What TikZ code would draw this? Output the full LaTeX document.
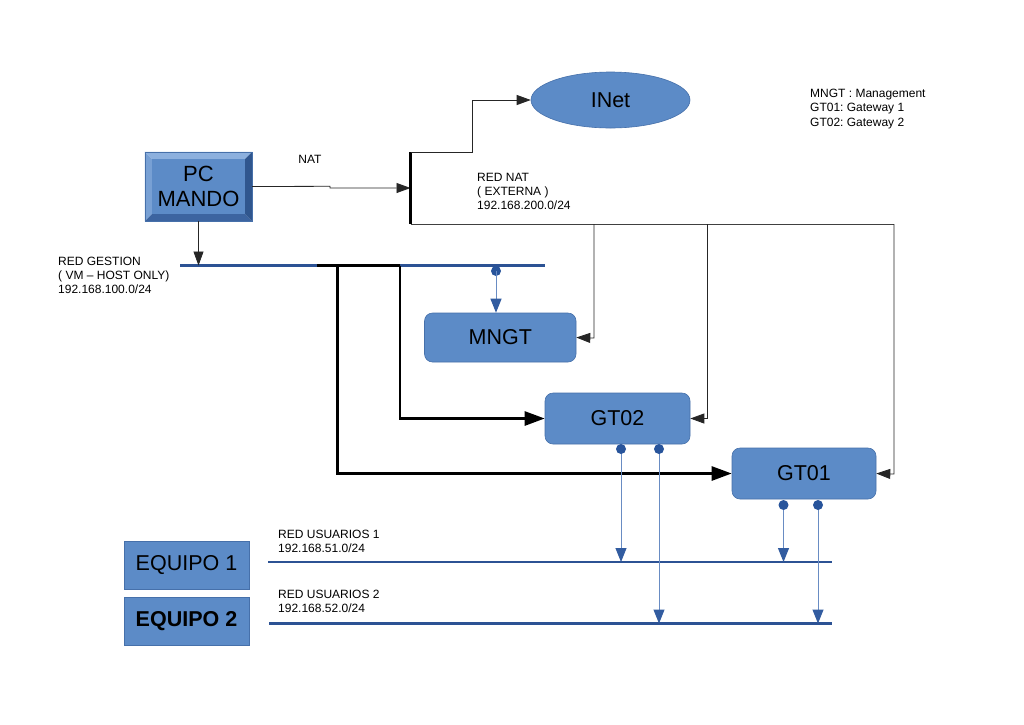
\documentclass[tikz,border=0pt]{standalone}
\usepackage{fontspec}
\setmainfont{Liberation Sans}
\usetikzlibrary{arrows.meta,shapes.geometric,calc}
\definecolor{boxblue}{RGB}{92,139,199}
\definecolor{boxedge}{RGB}{70,112,170}
\definecolor{netblue}{RGB}{44,82,148}
\definecolor{thinblue}{RGB}{105,140,195}
\definecolor{tipblue}{RGB}{50,92,160}
\definecolor{dotblue}{RGB}{40,84,155}
\definecolor{bevtop}{RGB}{140,176,222}
\definecolor{bevleft}{RGB}{120,160,212}
\definecolor{bevbot}{RGB}{60,100,160}
\definecolor{bevright}{RGB}{48,86,142}
\frenchspacing
\begin{document}
\begin{tikzpicture}[x=1pt,y=-1pt,
  bigtxt/.style={font=\fontsize{21.5}{25}\selectfont},
  lbl/.style={font=\fontsize{12}{14}\selectfont, align=left, anchor=north west, inner sep=0pt},
  rbox/.style={rectangle, rounded corners=8pt, fill=boxblue, draw=boxedge, line width=0.6pt, bigtxt},
  sqbox/.style={rectangle, fill=boxblue, draw=boxedge, line width=0.6pt, bigtxt},
  thinarrow/.style={draw=black!85, line width=0.8pt, -{Triangle[length=14pt,width=10pt]}},
  thinline/.style={draw=black!75, line width=0.8pt},
  thickarrow/.style={draw=black, line width=2.7pt, -{Triangle[length=20pt,width=14pt]}},
  bluearrow/.style={draw=thinblue, line width=1pt, -{Triangle[length=14pt,width=11pt,color=tipblue]}},
  netline/.style={draw=netblue, line width=2.7pt},
  bdot/.style={fill=dotblue}]
\useasboundingbox[fill=white] (0,0) rectangle (1024,724);

% ---- PC MANDO (bevelled box)
\node[minimum width=107pt, minimum height=69pt, inner sep=0pt] (pc) at (198.5,186.5) {};
\fill[bevtop] (pc.north west) -- (pc.north east) -- ($(pc.north east)+(-7,7)$) -- ($(pc.north west)+(7,7)$) -- cycle;
\fill[bevleft] (pc.north west) -- ($(pc.north west)+(7,7)$) -- ($(pc.south west)+(7,-7)$) -- (pc.south west) -- cycle;
\fill[bevbot] (pc.south west) -- (pc.south east) -- ($(pc.south east)+(-7,-7)$) -- ($(pc.south west)+(7,-7)$) -- cycle;
\fill[bevright] (pc.north east) -- (pc.south east) -- ($(pc.south east)+(-7,-7)$) -- ($(pc.north east)+(-7,7)$) -- cycle;
\fill[boxblue] ($(pc.north west)+(7,7)$) rectangle ($(pc.south east)+(-7,-7)$);
\draw[boxedge, line width=0.6pt] (pc.north west) rectangle (pc.south east);
\node[bigtxt, align=center, font=\fontsize{22}{25}\selectfont] (pctxt) at (pc.center) {PC\\MANDO};

% ---- INet
\node[ellipse, fill=boxblue, draw=boxedge, line width=0.6pt, minimum width=159pt, minimum height=56pt, bigtxt] (inet) at (610.5,100) {INet};

% ---- boxes
\node[rbox, minimum width=151.5pt, minimum height=49pt] (mngt) at (500.25,337.5) {MNGT};
\node[rbox, minimum width=145pt, minimum height=51pt] (gt02) at (617.5,418.5) {GT02};
\node[rbox, minimum width=144pt, minimum height=51pt] (gt01) at (804,473.5) {GT01};
\node[sqbox, minimum width=125pt, minimum height=48pt] (eq1) at (186.5,565) {EQUIPO 1};
\node[sqbox, minimum width=125pt, minimum height=48pt, font=\fontsize{21.5}{25}\selectfont\bfseries] (eq2) at (186.5,621) {EQUIPO 2};

% ---- labels
\node[font=\fontsize{12}{14}\selectfont] (natlbl) at (310,159) {NAT};
\node[lbl] (rednat) at (477,172.6) {RED NAT\\( EXTERNA )\\192.168.200.0/24};
\node[lbl, font=\fontsize{12}{14.5}\selectfont] (legend) at (810,88.6) {MNGT : Management\\GT01: Gateway 1\\GT02: Gateway 2};
\node[lbl, font=\fontsize{12}{13.7}\selectfont] (redgest) at (58,257.4) {RED GESTION\\( VM -- HOST ONLY)\\192.168.100.0/24};
\node[lbl] (ru1lbl) at (278,529.7) {RED USUARIOS 1\\192.168.51.0/24};
\node[lbl] (ru2lbl) at (278,589.7) {RED USUARIOS 2\\192.168.52.0/24};

% ---- coordinates
\coordinate (nattop) at (410.5,152);
\coordinate (natbot) at (410.5,224);
\coordinate (natin) at (410.5,188);
\coordinate (gestw) at (180,265.5);
\coordinate (geste) at (545,265.5);
\coordinate (ru1w) at (268,562);
\coordinate (ru1e) at (832,562);
\coordinate (ru2w) at (269,623.5);
\coordinate (ru2e) at (832,623.5);
\coordinate (dm) at (496,271);
\coordinate (d21) at (621,449);
\coordinate (d22) at (659,449);
\coordinate (d11) at (783.5,505);
\coordinate (d12) at (818,505);

% ---- RED NAT network
\draw[thinarrow] (pc.east) -- (330,186.3) -- (330,188) -- (natin);
\draw[black, line width=2.6pt] (nattop) -- (natbot);
\draw[thinarrow] (nattop) -- (472,152) -- (472,100) -- (inet.west);
\draw[thinline] (natbot) -- (894,224);
\draw[thinarrow] (594,224) -- (594,338) -- (mngt.east);
\draw[thinarrow] (707,224) -- (707,418.5) -- (gt02.east);
\draw[thinarrow] (894,224) -- (894,474) -- (gt01.east);

% ---- RED GESTION network
\draw[netline] (gestw) -- (geste);
\draw[thinarrow] (pc.south) -- (pc.south |- gestw);
\draw[black, line width=2.7pt] (317,265.5) -- (400,265.5);
\draw[thickarrow] (400,265.5) -- (400,418.5) -- (gt02.west);
\draw[thickarrow] (337.5,265.5) -- (337.5,473.5) -- (gt01.west);
\fill[bdot] (dm) circle[radius=5pt];
\draw[bluearrow] (dm) -- (dm |- mngt.north);

% ---- user networks
\draw[netline] (ru1w) -- (ru1e);
\draw[netline] (ru2w) -- (ru2e);
\draw[bluearrow] (d21) -- (d21 |- ru1w);
\draw[bluearrow] (d22) -- (d22 |- ru2w);
\draw[bluearrow] (d11) -- (d11 |- ru1w);
\draw[bluearrow] (d12) -- (d12 |- ru2w);
\fill[bdot] (d21) circle[radius=5pt];
\fill[bdot] (d22) circle[radius=5pt];
\fill[bdot] (d11) circle[radius=5pt];
\fill[bdot] (d12) circle[radius=5pt];
\end{tikzpicture}
\end{document}
